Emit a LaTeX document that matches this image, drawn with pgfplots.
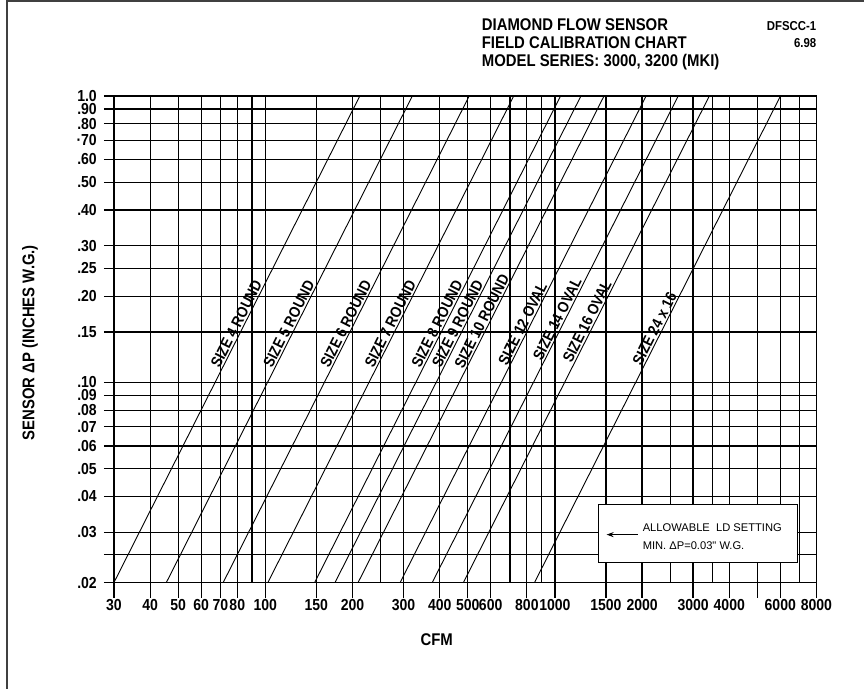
\documentclass[border=0pt]{standalone}
\usepackage{pgfplots}
\pgfplotsset{compat=1.18}
\usetikzlibrary{arrows.meta}
\usepackage{fontspec}
\setmainfont{Liberation Sans}[FakeStretch=0.88]
\newfontfamily\plainfont{Liberation Sans}
\newcommand\titlefont{\bfseries\fontsize{17}{18}\selectfont}
\newcommand\tickfont{\bfseries\fontsize{16}{16}\selectfont}
\newcommand\lblfont{\bfseries\fontsize{15.5}{16}\selectfont}
\newcommand\boxfont{\plainfont\fontsize{11.2}{12}\selectfont}
\newcommand\smallfont{\bfseries\fontsize{13}{13}\selectfont}
\begin{document}
\begin{tikzpicture}[x=1bp,y=1bp]
\path (0,0) rectangle (865,689);
\draw[line width=1.2bp, black!75] (7,0) -- (7,688) -- (865,688);
\begin{axis}[
  at={(114bp,106bp)}, anchor=south west,
  width=703bp, height=487bp, scale only axis,
  xmode=log, ymode=log,
  xmin=30, xmax=8000, ymin=0.02, ymax=1,
  xtick={30,40,50,60,70,80,100,150,200,300,400,500,600,800,1000,1500,2000,3000,4000,5000,6000,8000},
  xticklabels={30,40,50,60,70,80,100,150,200,300,400,500,600,800,1000,1500,2000,3000,4000,,6000,8000},
  extra x ticks={90,250,700,900,2500,3500,7000},
  extra x tick labels={},
  extra x tick style={grid=major, xtick style={draw=none}},
  ytick={0.02,0.025,0.03,0.04,0.05,0.06,0.07,0.08,0.09,0.1,0.15,0.2,0.25,0.3,0.4,0.5,0.6,0.7,0.8,0.9,1},
  yticklabels={.02,,.03,.04,.05,.06,.07,.08,.09,.10,.15,.20,.25,.30,.40,.50,.60,·70,.80,.90,1.0},
  xtick pos=bottom, ytick pos=left,
  grid=major,
  major grid style={black, line width=1.2bp},
  axis line style={black, line width=1.3bp},
  tick align=outside,
  major tick length=15bp,
  tick style={black, line width=1.2bp},
  ytick style={/pgfplots/major tick length=10bp},
  xticklabel style={font=\tickfont, inner sep=2bp},
  yticklabel style={font=\tickfont, inner sep=2bp},
]
\addplot[black, line width=0.9bp] coordinates {(30,0.02) (212,1)} node[pos=0.525, sloped, anchor=south, font=\lblfont, inner sep=1.5bp]{SIZE 4 ROUND};
\addplot[black, line width=0.9bp] coordinates {(45.5,0.02) (322,1)} node[pos=0.525, sloped, anchor=south, font=\lblfont, inner sep=1.5bp]{SIZE 5 ROUND};
\addplot[black, line width=0.9bp] coordinates {(71.5,0.02) (506,1)} node[pos=0.525, sloped, anchor=south, font=\lblfont, inner sep=1.5bp]{SIZE 6 ROUND};
\addplot[black, line width=0.9bp] coordinates {(102,0.02) (721,1)} node[pos=0.525, sloped, anchor=south, font=\lblfont, inner sep=1.5bp]{SIZE 7 ROUND};
\addplot[black, line width=0.9bp] coordinates {(148,0.02) (1046,1)} node[pos=0.525, sloped, anchor=south, font=\lblfont, inner sep=1.5bp]{SIZE 8 ROUND};
\addplot[black, line width=0.9bp] coordinates {(174,0.02) (1230,1)} node[pos=0.525, sloped, anchor=south, font=\lblfont, inner sep=1.5bp]{SIZE 9 ROUND};
\addplot[black, line width=0.9bp] coordinates {(209,0.02) (1478,1)} node[pos=0.53, sloped, anchor=south, font=\lblfont, inner sep=1.5bp]{SIZE 10 ROUND};
\addplot[black, line width=0.9bp] coordinates {(292,0.02) (2065,1)} node[pos=0.525, sloped, anchor=south, font=\lblfont, inner sep=1.5bp]{SIZE 12 OVAL};
\addplot[black, line width=0.9bp] coordinates {(377,0.02) (2666,1)} node[pos=0.535, sloped, anchor=south, font=\lblfont, inner sep=1.5bp]{SIZE 14 OVAL};
\addplot[black, line width=0.9bp] coordinates {(483,0.02) (3415,1)} node[pos=0.53, sloped, anchor=south, font=\lblfont, inner sep=1.5bp]{SIZE 16 OVAL};
\addplot[black, line width=0.9bp] coordinates {(850,0.02) (6010,1)} node[pos=0.515, sloped, anchor=south, font=\lblfont, inner sep=1.5bp]{SIZE 24 x 16};
\end{axis}
\draw[fill=white, line width=1.2bp] (599,184) rectangle (798,126);
\draw[-{Stealth[length=7bp,width=5bp]}, line width=1bp] (638,154) -- (607,154);
\node[anchor=west, font=\boxfont, inner sep=0pt] at (643,161) {ALLOWABLE\ \ LD SETTING};
\node[anchor=west, font=\boxfont, inner sep=0pt] at (643,143) {MIN. ΔP=0.03" W.G.};
\node[anchor=base west, font=\titlefont, inner sep=0pt] at (482,658) {DIAMOND FLOW SENSOR};
\node[anchor=base west, font=\titlefont, inner sep=0pt] at (482,640) {FIELD CALIBRATION CHART};
\node[anchor=base west, font=\titlefont, inner sep=0pt] at (482,622) {MODEL SERIES: 3000, 3200 (MKI)};
\node[anchor=base east, font=\smallfont, inner sep=0pt] at (817,658) {DFSCC-1};
\node[anchor=base east, font=\smallfont, inner sep=0pt] at (817,641) {6.98};
\node[rotate=90, font=\titlefont] at (30,346) {SENSOR ΔP (INCHES W.G.)};
\node[font=\titlefont] at (437,49) {CFM};
\end{tikzpicture}
\end{document}
